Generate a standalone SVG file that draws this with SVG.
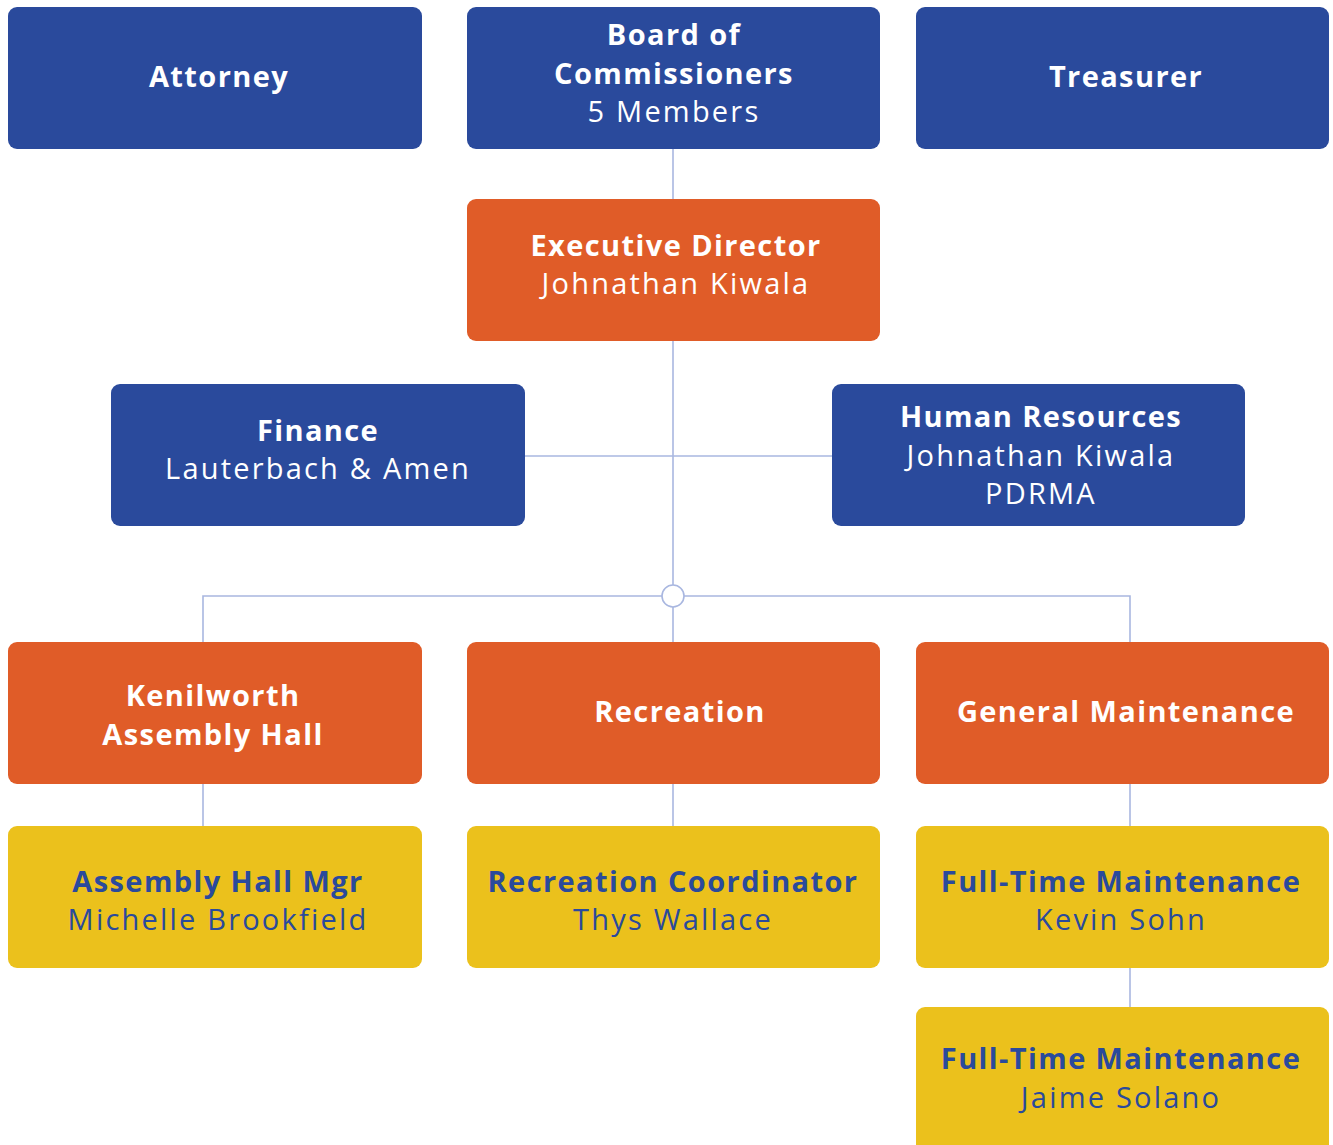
<svg xmlns="http://www.w3.org/2000/svg" width="1333" height="1145" viewBox="0 0 1333 1145">
  <style>
    .box { rx: 9; ry: 9; }
    .blue { fill: #2A4A9C; }
    .orange { fill: #E05C28; }
    .yellow { fill: #EBC11C; }
    text { font-family: "Open Sans", "Liberation Sans", sans-serif; font-size: 29px; text-anchor: middle; }
    .b { font-weight: 700; letter-spacing: 1.4px; }
    .r { font-weight: 400; letter-spacing: 2.2px; }
    .w { fill: #FFFFFF; }
    .d { fill: #2A4A9C; }
    .link { stroke: #A9B7E0; stroke-width: 1.6; fill: none; }
  </style>

  <!-- connectors -->
  <g id="connectors">
    <line class="link" x1="673" y1="149" x2="673" y2="199"/>
    <line class="link" x1="673" y1="341" x2="673" y2="585"/>
    <line class="link" x1="525" y1="456" x2="832" y2="456"/>
    <line class="link" x1="673" y1="607" x2="673" y2="642"/>
    <polyline class="link" points="203,642 203,596 662,596"/>
    <polyline class="link" points="684,596 1130,596 1130,642"/>
    <circle class="link" cx="673" cy="596" r="11" fill="#FFFFFF"/>
    <line class="link" x1="203" y1="784" x2="203" y2="826"/>
    <line class="link" x1="673" y1="784" x2="673" y2="826"/>
    <line class="link" x1="1130" y1="784" x2="1130" y2="826"/>
    <line class="link" x1="1130" y1="968" x2="1130" y2="1007"/>
  </g>

  <!-- top row -->
  <g id="attorney">
    <rect class="box blue" x="8" y="7" width="414" height="142"/>
    <text class="b w" x="219" y="87">Attorney</text>
  </g>
  <g id="board">
    <rect class="box blue" x="467" y="7" width="413" height="142"/>
    <text class="b w" x="674" y="45">Board of</text>
    <text class="b w" x="674" y="84">Commissioners</text>
    <text class="r w" x="674" y="122">5 Members</text>
  </g>
  <g id="treasurer">
    <rect class="box blue" x="916" y="7" width="413" height="142"/>
    <text class="b w" x="1126" y="87">Treasurer</text>
  </g>

  <!-- executive -->
  <g id="executive-director">
    <rect class="box orange" x="467" y="199" width="413" height="142"/>
    <text class="b w" x="676" y="256">Executive Director</text>
    <text class="r w" x="676" y="294">Johnathan Kiwala</text>
  </g>

  <!-- staff functions -->
  <g id="finance">
    <rect class="box blue" x="111" y="384" width="414" height="142"/>
    <text class="b w" x="318" y="441">Finance</text>
    <text class="r w" x="318" y="479">Lauterbach &amp; Amen</text>
  </g>
  <g id="human-resources">
    <rect class="box blue" x="832" y="384" width="413" height="142"/>
    <text class="b w" x="1041" y="427">Human Resources</text>
    <text class="r w" x="1041" y="466">Johnathan Kiwala</text>
    <text class="r w" x="1041" y="504">PDRMA</text>
  </g>

  <!-- departments -->
  <g id="kenilworth-assembly-hall">
    <rect class="box orange" x="8" y="642" width="414" height="142"/>
    <text class="b w" x="213" y="706">Kenilworth</text>
    <text class="b w" x="213" y="745">Assembly Hall</text>
  </g>
  <g id="recreation">
    <rect class="box orange" x="467" y="642" width="413" height="142"/>
    <text class="b w" x="680" y="722">Recreation</text>
  </g>
  <g id="general-maintenance">
    <rect class="box orange" x="916" y="642" width="413" height="142"/>
    <text class="b w" x="1126" y="722">General Maintenance</text>
  </g>

  <!-- staff -->
  <g id="assembly-hall-mgr">
    <rect class="box yellow" x="8" y="826" width="414" height="142"/>
    <text class="b d" x="218" y="892">Assembly Hall Mgr</text>
    <text class="r d" x="218" y="930">Michelle Brookfield</text>
  </g>
  <g id="recreation-coordinator">
    <rect class="box yellow" x="467" y="826" width="413" height="142"/>
    <text class="b d" x="673" y="892">Recreation Coordinator</text>
    <text class="r d" x="673" y="930">Thys Wallace</text>
  </g>
  <g id="maintenance-sohn">
    <rect class="box yellow" x="916" y="826" width="413" height="142"/>
    <text class="b d" x="1121" y="892">Full-Time Maintenance</text>
    <text class="r d" x="1121" y="930">Kevin Sohn</text>
  </g>
  <g id="maintenance-solano">
    <rect class="box yellow" x="916" y="1007" width="413" height="160"/>
    <text class="b d" x="1121" y="1069">Full-Time Maintenance</text>
    <text class="r d" x="1121" y="1108">Jaime Solano</text>
  </g>
</svg>
